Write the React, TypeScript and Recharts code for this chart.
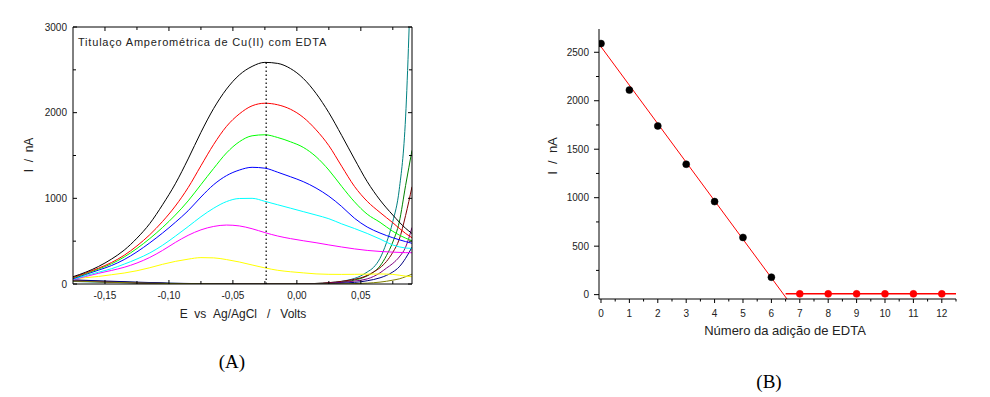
import React from 'react';
import { LineChart, Line, XAxis, YAxis } from 'recharts';

// ---------- Chart A: voltammograms ----------
const peakE = [-0.175, -0.165, -0.155, -0.145, -0.135, -0.125, -0.115, -0.105, -0.095, -0.085, -0.075, -0.065, -0.055, -0.045, -0.035, -0.025, -0.015, -0.005, 0.005, 0.015, 0.025, 0.035, 0.045, 0.055, 0.065, 0.075, 0.085, 0.09];
const curve0 = [85, 138, 205, 290, 395, 535, 705, 925, 1170, 1460, 1770, 2050, 2275, 2440, 2540, 2587, 2575, 2515, 2400, 2225, 2000, 1735, 1460, 1195, 980, 805, 650, 590];
const curve1 = [75, 128, 185, 250, 335, 445, 575, 730, 910, 1125, 1380, 1630, 1840, 1985, 2080, 2110, 2092, 2040, 1945, 1800, 1615, 1375, 1140, 965, 835, 715, 590, 540];
const curve2 = [70, 120, 175, 235, 315, 415, 530, 660, 805, 970, 1160, 1350, 1530, 1660, 1730, 1742, 1710, 1660, 1595, 1486, 1330, 1140, 960, 815, 720, 615, 535, 505];
const curve3 = [62, 112, 162, 215, 285, 375, 480, 595, 720, 855, 1015, 1160, 1265, 1330, 1362, 1352, 1305, 1252, 1195, 1120, 1025, 905, 768, 665, 595, 540, 495, 475];
const curve4 = [55, 98, 138, 178, 232, 292, 362, 452, 558, 670, 785, 885, 962, 998, 1000, 965, 925, 885, 845, 805, 762, 702, 648, 590, 525, 455, 420, 415];
const curve5 = [50, 88, 125, 158, 195, 245, 310, 392, 485, 568, 632, 672, 688, 678, 645, 600, 560, 530, 505, 482, 456, 432, 410, 392, 380, 372, 366, 365];
const curve6 = [60, 74, 88, 108, 128, 155, 190, 230, 264, 290, 308, 305, 285, 257, 222, 188, 160, 143, 130, 118, 113, 112, 113, 115, 117, 112, 92, 85];

const riseE = [-0.175, -0.15, -0.125, -0.1, -0.075, -0.05, -0.025, 0, 0.01, 0.02, 0.03, 0.04, 0.05, 0.055, 0.06, 0.065, 0.07, 0.075, 0.08, 0.085, 0.09];
const curve7 = [30, 20, 12, 6, 3, 1, 0, 0, 3, 10, 22, 45, 95, 140, 195, 300, 480, 730, 1100, 1950, 4050];
const curve8 = [45, 30, 18, 8, 3, 1, 0, 0, 2, 6, 15, 32, 65, 95, 140, 210, 330, 490, 720, 1150, 1560];
const curve9 = [40, 28, 15, 6, 2, 0, 0, 0, 3, 10, 22, 42, 72, 100, 140, 190, 262, 370, 520, 800, 1135];
const curve10 = [38, 25, 14, 6, 2, 0, 0, 0, 2, 6, 13, 26, 44, 60, 88, 130, 185, 240, 315, 430, 660];
const curve11 = [48, 35, 22, 10, 4, 1, 0, 0, 1, 3, 7, 14, 26, 38, 52, 72, 100, 140, 200, 300, 430];
const curve12 = [35, 22, 12, 5, 2, 0, 0, 0, 0, 1, 1, 3, 7, 10, 15, 22, 32, 45, 60, 85, 115];

const peakColors = ['#000000', '#ff0000', '#00ff00', '#0000ff', '#00ffff', '#ff00ff', '#ffff00'];
const riseColors = ['#008080', '#008000', '#800000', '#800080', '#000080', '#808000'];

const markerE = [-0.024, -0.024];
const markerI = [0, 2590];

const eMajorTicks = [-0.15, -0.1, -0.05, 0, 0.05];
const eMinorTicks = [-0.125, -0.075, -0.025, 0.025, 0.075];
const iMajorTicksA = [0, 1000, 2000, 3000];
const iMinorTicksA = [500, 1500, 2500];

// ---------- Chart B: titration curve ----------
const additionBefore = [0, 1, 2, 3, 4, 5, 6];
const currentBefore = [2590, 2110, 1740, 1345, 960, 590, 180];
const additionAfter = [7, 8, 9, 10, 11, 12];
const currentAfter = [8, 8, 8, 8, 8, 8];
const fitX = [-0.07, 6.55];
const fitI = [2585, -45];
const plateauX = [6.5, 12.5];
const plateauI = [10, 10];
const nMajorTicks = [0, 1, 2, 3, 4, 5, 6, 7, 8, 9, 10, 11, 12];
const nMinorTicks = [0.5, 1.5, 2.5, 3.5, 4.5, 5.5, 6.5, 7.5, 8.5, 9.5, 10.5, 11.5, 12.5];
const iMajorTicksB = [0, 500, 1000, 1500, 2000, 2500];
const iMinorTicksB = [250, 750, 1250, 1750, 2250];

const zip = (xs: number[], ys: number[]) => xs.map((x, i) => ({ x, y: ys[i] }));
const fmtE = (v: number) => (v < -1e-9 ? '-' : '') + Math.abs(v).toFixed(2).replace('.', ',');
const fmtInt = (v: number) => String(Math.round(v));

const FONT = 'Arial, "Liberation Sans", sans-serif';
const TXT = '#222';

type Side = 'left' | 'right' | 'top' | 'bottom';
function makeTick(side: Side, majors: number[], majorLen: number, minorLen: number, dir: number, fmt: ((v: number) => string) | null, gap: number) {
  return (p: any) => {
    const v = Number(p.payload.value);
    const major = majors.some((m) => Math.abs(m - v) < 1e-6);
    const len = (major ? majorLen : minorLen) * dir;
    const x = p.x;
    const y = p.y;
    const horiz = side === 'left' || side === 'right';
    return (
      <g>
        {horiz ? (
          <line x1={x} x2={x + len} y1={y} y2={y} stroke="#000" strokeWidth={1} />
        ) : (
          <line x1={x} x2={x} y1={y} y2={y + len} stroke="#000" strokeWidth={1} />
        )}
        {major && fmt ? (
          side === 'left' ? (
            <text x={x - gap} y={y} dy="0.35em" textAnchor="end" fontSize={10} fontFamily={FONT} fill={TXT}>{fmt(v)}</text>
          ) : (
            <text x={x} y={y + gap} textAnchor="middle" fontSize={10} fontFamily={FONT} fill={TXT}>{fmt(v)}</text>
          )
        ) : null}
      </g>
    );
  };
}

const peakCurves = [curve0, curve1, curve2, curve3, curve4, curve5, curve6];
const riseCurves = [curve7, curve8, curve9, curve10, curve11, curve12];

export default function App() {
  const eTicks = [...eMajorTicks, ...eMinorTicks].sort((a, b) => a - b);
  const iTicksA = [...iMajorTicksA, ...iMinorTicksA].sort((a, b) => a - b);
  const nTicks = [...nMajorTicks, ...nMinorTicks].sort((a, b) => a - b);
  const iTicksB = [...iMajorTicksB, ...iMinorTicksB].sort((a, b) => a - b);
  const axisStyle = { stroke: '#000', strokeWidth: 1 };
  return (
    <div style={{ position: 'absolute', left: 0, top: 0, width: 990, height: 397, background: '#fff' }}>
      <div style={{ position: 'absolute', left: 0, top: 0 }}>
        <LineChart width={430} height={330} margin={{ top: 26, right: 17, bottom: 0, left: 0 }}>
          <XAxis dataKey="x" type="number" domain={[-0.175, 0.09]} allowDataOverflow ticks={eTicks} interval={0}
            height={46} tickSize={0} tickMargin={0} axisLine={axisStyle} tickLine={false}
            tick={makeTick('bottom', eMajorTicks, 4, 3, -1, fmtE, 15)} />
          <XAxis xAxisId="top" orientation="top" dataKey="x" type="number" domain={[-0.175, 0.09]} allowDataOverflow ticks={eTicks} interval={0}
            height={1} tickSize={0} tickMargin={0} axisLine={axisStyle} tickLine={false}
            tick={makeTick('top', eMajorTicks, 4, 3, 1, null, 0)} />
          <YAxis dataKey="y" type="number" domain={[0, 3000]} allowDataOverflow ticks={iTicksA} interval={0}
            width={73} tickSize={0} tickMargin={0} axisLine={axisStyle} tickLine={false}
            tick={makeTick('left', iMajorTicksA, 4, 3, 1, fmtInt, 6)} />
          <YAxis yAxisId="right" orientation="right" dataKey="y" type="number" domain={[0, 3000]} allowDataOverflow ticks={iTicksA} interval={0}
            width={1} tickSize={0} tickMargin={0} axisLine={axisStyle} tickLine={false}
            tick={makeTick('right', iMajorTicksA, 4, 3, -1, null, 0)} />
          {riseCurves.map((c, k) => (
            <Line key={'r' + k} data={zip(riseE, c)} dataKey="y" type="monotone" stroke={riseColors[k]} strokeWidth={1}
              dot={false} isAnimationActive={false} />
          ))}
          {peakCurves.slice().reverse().map((c, k) => {
            const idx = peakCurves.length - 1 - k;
            return (
              <Line key={'p' + idx} data={zip(peakE, c)} dataKey="y" type="monotone" stroke={peakColors[idx]} strokeWidth={1}
                dot={false} isAnimationActive={false} />
            );
          })}
          <Line data={zip(markerE, markerI)} dataKey="y" type="linear" stroke="#000" strokeWidth={1.2} strokeDasharray="1.5 2.5"
            dot={false} isAnimationActive={false} />
        </LineChart>
      </div>

      <div style={{ position: 'absolute', left: 540, top: 0 }}>
        <LineChart width={440} height={350} margin={{ top: 29, right: 24, bottom: 0, left: 0 }}>
          <XAxis dataKey="x" type="number" domain={[-0.07, 12.5]} allowDataOverflow ticks={nTicks} interval={0}
            height={51} tickSize={0} tickMargin={0} axisLine={axisStyle} tickLine={false}
            tick={makeTick('bottom', nMajorTicks, 4, 2.5, 1, fmtInt, 18)} />
          <YAxis dataKey="y" type="number" domain={[-45, 2740]} allowDataOverflow ticks={iTicksB} interval={0}
            width={59} tickSize={0} tickMargin={0} axisLine={axisStyle} tickLine={false}
            tick={makeTick('left', iMajorTicksB, 5, 3, -1, fmtInt, 10)} />
          <Line data={zip(fitX, fitI)} dataKey="y" type="linear" stroke="#ff0000" strokeWidth={1}
            dot={false} isAnimationActive={false} />
          <Line data={zip(plateauX, plateauI)} dataKey="y" type="linear" stroke="#ff0000" strokeWidth={1.5}
            dot={false} isAnimationActive={false} />
          <Line data={zip(additionBefore, currentBefore)} dataKey="y" type="linear" stroke="none"
            dot={{ r: 3.5, fill: '#000', stroke: '#000', strokeWidth: 0.5 }} isAnimationActive={false} />
          <Line data={zip(additionAfter, currentAfter)} dataKey="y" type="linear" stroke="none"
            dot={{ r: 3.5, fill: '#ff0000', stroke: '#ff0000', strokeWidth: 0.5 }} isAnimationActive={false} />
        </LineChart>
      </div>

      <svg width={990} height={397} style={{ position: 'absolute', left: 0, top: 0, pointerEvents: 'none' }}>
        <text x={78} y={46} fontSize={11} fontFamily={FONT} fill={TXT} letterSpacing={0.8}>Titulaço Amperométrica de Cu(II) com EDTA</text>
        <text x={0} y={0} transform="translate(33,155) rotate(-90)" textAnchor="middle" fontSize={12} fontFamily={FONT} fill={TXT}>{'I\u00a0\u00a0/\u00a0\u00a0nA'}</text>
        <text x={243} y={318} textAnchor="middle" fontSize={12} fontFamily={FONT} fill={TXT}>{'E\u00a0\u00a0vs\u00a0\u00a0Ag/AgCl\u00a0\u00a0\u00a0/\u00a0\u00a0\u00a0Volts'}</text>
        <text x={0} y={0} transform="translate(557,156) rotate(-90)" textAnchor="middle" fontSize={13} fontFamily={FONT} fill={TXT}>{'I\u00a0\u00a0/\u00a0\u00a0nA'}</text>
        <text x={785} y={335} textAnchor="middle" fontSize={13} fontFamily={FONT} fill={TXT}>Número da adição de EDTA</text>
        <text x={232} y={368} textAnchor="middle" fontSize={19} fontFamily='"Liberation Serif", "Times New Roman", serif' fill="#000">(A)</text>
        <text x={769} y={388} textAnchor="middle" fontSize={19} fontFamily='"Liberation Serif", "Times New Roman", serif' fill="#000">(B)</text>
      </svg>
    </div>
  );
}
